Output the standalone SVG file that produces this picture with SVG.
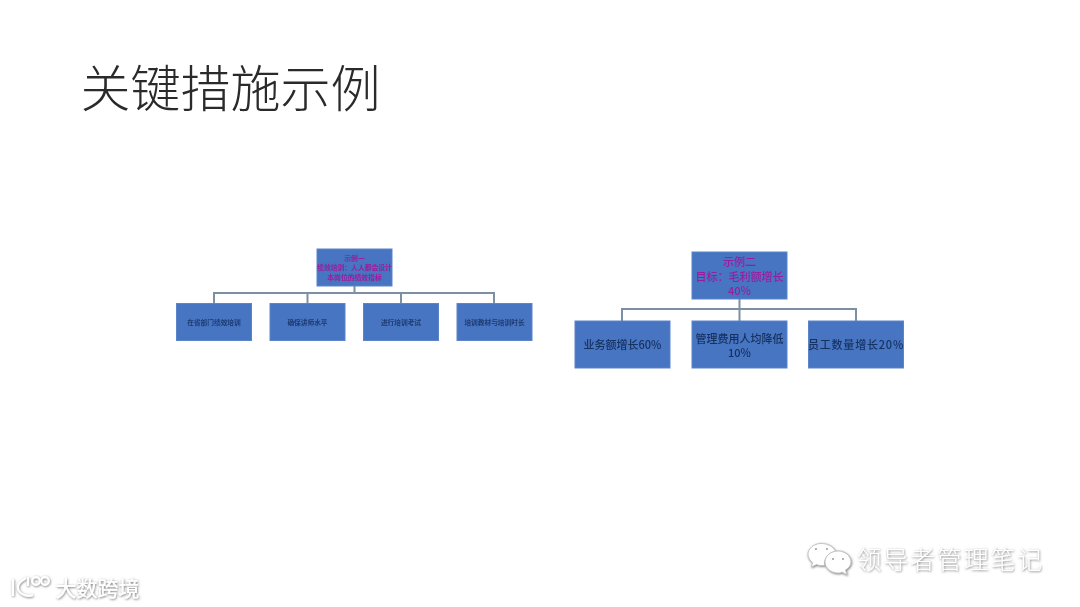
<svg xmlns="http://www.w3.org/2000/svg" width="1080" height="607" viewBox="0 0 1080 607">
<defs>
<filter id="soft" x="-5%" y="-5%" width="110%" height="110%"><feGaussianBlur stdDeviation="0.5"/></filter>
<filter id="mark" x="-10%" y="-20%" width="120%" height="140%"><feDropShadow dx="0.6" dy="0.8" stdDeviation="0.9" flood-color="#666" flood-opacity="0.9"/></filter>
</defs>
<style>
text{font-family:"Noto Sans CJK SC","Liberation Sans",sans-serif;text-anchor:middle}
.box{fill:#4674c1;stroke:#5b84c8;stroke-width:1}
.link{fill:none;stroke:#7d8fa3;stroke-width:2}
.h1{fill:#a01a9a;font-size:6.800px;font-weight:700}
.c1{fill:#1d3c72;font-size:6.700px;font-weight:700}
.h2{fill:#9a1f9e;font-size:11px;font-weight:500}
.c2{fill:#16315f;font-size:11px;font-weight:500}
.wm{fill:#fff;filter:url(#mark)}
</style>
<rect width="1080" height="607" fill="#fff"/>
<text id="title" x="230.500" y="107" style="font-size:50px;font-weight:300;fill:#2a2a2a">关键措施示例</text>

<g id="connectors" filter="url(#soft)">
<path class="link" d="M354.500 286V293M214 303V293H494V303M307.500 293V303M401 293V303"/>
<path class="link" d="M739.500 299V321M622 321V309H856V321"/>
</g>

<g filter="url(#soft)">
<g id="node-a0"><rect class="box" x="317" y="249" width="75" height="37"/>
<text class="h1" x="354.500" y="260.500">示例一</text><text class="h1" x="354.500" y="270">绩效培训：人人都会设计</text><text class="h1" x="354.500" y="279.500">本岗位的绩效指标</text></g>
<g id="node-a1"><rect class="box" x="176.500" y="303.500" width="75" height="37"/><text class="c1" x="214" y="325">在省部门绩效培训</text></g>
<g id="node-a2"><rect class="box" x="270" y="303.500" width="75" height="37"/><text class="c1" x="307.500" y="325">确保讲师水平</text></g>
<g id="node-a3"><rect class="box" x="363.500" y="303.500" width="75" height="37"/><text class="c1" x="401" y="325">进行培训考试</text></g>
<g id="node-a4"><rect class="box" x="457" y="303.500" width="75" height="37"/><text class="c1" x="494.500" y="325">培训教材与培训时长</text></g>

<g id="node-b0"><rect class="box" x="692" y="252" width="95" height="47"/>
<text class="h2" x="739.500" y="266">示例二</text><text class="h2" x="739.500" y="281">目标：毛利额增长</text><text class="h2" x="739.500" y="295">40%</text></g>
<g id="node-b1"><rect class="box" x="575" y="321" width="95" height="47"/><text class="c2" x="622.500" y="349">业务额增长60%</text></g>
<g id="node-b2"><rect class="box" x="692" y="321" width="95" height="47"/><text class="c2" x="739.500" y="343">管理费用人均降低</text><text class="c2" x="739.500" y="357">10%</text></g>
<g id="node-b3"><rect class="box" x="808.500" y="321" width="95" height="47"/><text class="c2" x="856" y="349" style="letter-spacing:.8px">员工数量增长20%</text></g>
</g>

<g id="watermark-wechat" filter="url(#mark)">
<path fill="#fff" stroke="#bbb" stroke-width=".8" d="M821 543.500c-7 0-13 5-13 11 0 3 2 6 4.500 8l-1 4.500 5-2.500c1 .5 3 1 5 1h3c-1-7 4-13 11-14-2-5-8-8-14.500-8z"/>
<path fill="#fff" stroke="#bbb" stroke-width=".8" d="M838 551c-7 0-13 5-13 11s6 11 13 11c1.500 0 3 0 4-1l5 3-1.500-5c3.500-2 5.500-5 5.500-8 0-6-6-11-13-11z"/>
<circle cx="816" cy="549" r="1" fill="#999"/><circle cx="827" cy="549" r="1" fill="#999"/><circle cx="833" cy="559" r="1" fill="#999"/><circle cx="843" cy="559" r="1" fill="#999"/>
</g>
<text id="watermark-name" class="wm" x="950.500" y="569" style="font-size:24.500px;font-weight:300;letter-spacing:2.300px">领导者管理笔记</text>
<g id="watermark-logo" filter="url(#mark)" fill="none" stroke="#fff" stroke-width="2.200">
<path d="M13 579v17M26 578c-7 4-9 8-8 11 2 6 10 8 15 6"/><path d="M28 577v9"/><circle cx="36" cy="581" r="3.800"/><circle cx="45" cy="581" r="3.800"/>
</g>
<text id="watermark-brand" class="wm" x="97.500" y="595.500" style="font-size:21px;font-weight:500">大数跨境</text>
</svg>
